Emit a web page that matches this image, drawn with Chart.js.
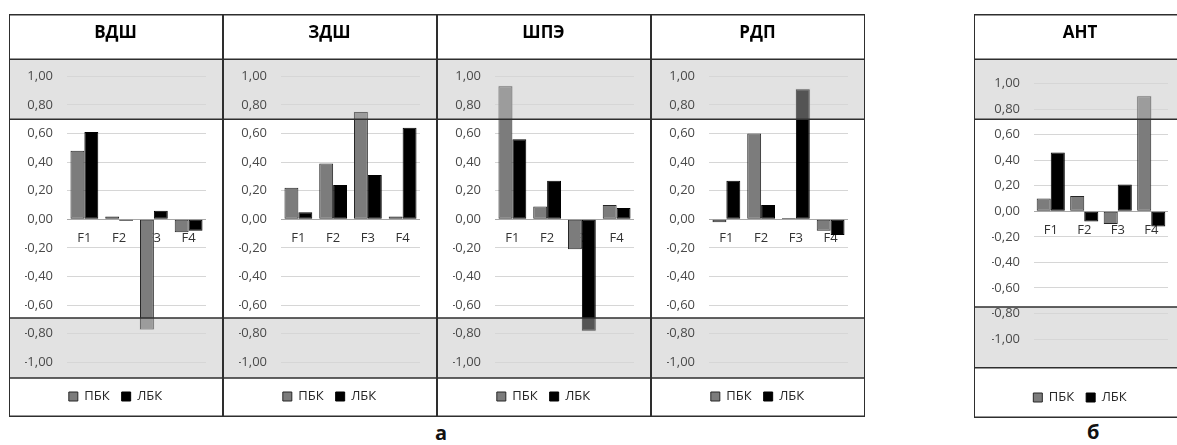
<!DOCTYPE html>
<html>
<head>
<meta charset="utf-8">
<script src="https://cdn.jsdelivr.net/npm/chart.js@4/dist/chart.umd.min.js"></script>
<style>
  html, body { margin: 0; padding: 0; background: #fff; overflow: hidden; }
  body { width: 1177px; height: 445px; position: relative; }
  .cell { position: absolute; }
  .cell canvas { display: block; }
  .caption { position: absolute; font: bold 20px "Open Sans", sans-serif; line-height: 20px; color: #111; }
</style>
</head>
<body>
<div class="caption" style="left:435px;top:423px">а</div>
<div class="caption" style="left:1087px;top:422px">б</div>
<script>
const categories = ["F1", "F2", "F3", "F4"];
const seriesNames = ["ПБК", "ЛБК"];
const yTicks = [-1, -0.8, -0.6, -0.4, -0.2, 0, 0.2, 0.4, 0.6, 0.8, 1];

// values
const vdshPbk = [0.48, 0.02, -0.77, -0.09];
const vdshLbk = [0.61, -0.01, 0.06, -0.08];
const zdshPbk = [0.22, 0.39, 0.75, 0.02];
const zdshLbk = [0.05, 0.24, 0.31, 0.64];
const shpePbk = [0.93, 0.09, -0.21, 0.1];
const shpeLbk = [0.56, 0.27, -0.78, 0.08];
const rdpPbk = [-0.02, 0.6, 0.01, -0.08];
const rdpLbk = [0.27, 0.1, 0.91, -0.11];
const antPbk = [0.1, 0.12, -0.1, 0.9];
const antLbk = [0.46, -0.08, 0.21, -0.12];

// shaded zones: above the first value, below the second
const bandsA = [0.7, -0.69];
const bandsB = [0.72, -0.75];

const frameA = {
  top: 14, width: 214, height: 403, padLeft: 16, padRight: 17, padBottom: 4,
  yMin: -1.11, yMax: 1.12, catPct: 0.8, bands: bandsA, legendGap: 0,
};
const frameB = {
  top: 14, width: 214, height: 404, padLeft: 18, padRight: 20, padBottom: 4,
  yMin: -1.225, yMax: 1.19, catPct: 0.84, bands: bandsB, legendGap: 10,
};

const panels = [
  { title: "ВДШ", pbk: vdshPbk, lbk: vdshLbk, left: 9, frame: frameA },
  { title: "ЗДШ", pbk: zdshPbk, lbk: zdshLbk, left: 223, frame: frameA },
  { title: "ШПЭ", pbk: shpePbk, lbk: shpeLbk, left: 437, frame: frameA },
  { title: "РДП", pbk: rdpPbk, lbk: rdpLbk, left: 651, frame: frameA },
  { title: "АНТ", pbk: antPbk, lbk: antLbk, left: 974, frame: frameB },
];

const FONT = '"Open Sans", sans-serif';
const BAND_FILL = "#e2e2e2";
const BAND_OVER = "rgba(200, 200, 200, 0.42)";
const FRAME_COLOR = "#2e2e2e";

const bandPlugin = {
  id: "bands",
  beforeDraw: (chart, args, options) => {
    const { ctx, chartArea, width } = chart;
    const y = chart.scales.y;
    const yHi = y.getPixelForValue(options.high);
    const yLo = y.getPixelForValue(options.low);
    ctx.save();
    ctx.fillStyle = BAND_FILL;
    ctx.fillRect(0, chartArea.top, width, yHi - chartArea.top);
    ctx.fillRect(0, yLo, width, chartArea.bottom - yLo);
    ctx.restore();
  },
  afterDatasetsDraw: (chart, args, options) => {
    const { ctx, chartArea, width, height } = chart;
    const y = chart.scales.y;
    const yHi = y.getPixelForValue(options.high);
    const yLo = y.getPixelForValue(options.low);
    const zones = [[chartArea.top, yHi], [yLo, chartArea.bottom]];

    // bars seen through the shaded zones
    ctx.save();
    ctx.fillStyle = BAND_OVER;
    chart.data.datasets.forEach((ds, i) => {
      chart.getDatasetMeta(i).data.forEach((bar) => {
        const top = Math.min(bar.y, bar.base) - 0.5;
        const bottom = Math.max(bar.y, bar.base) + 0.5;
        const x0 = bar.x - bar.width / 2 - 0.5;
        zones.forEach(([z0, z1]) => {
          const a = Math.max(top, z0);
          const b = Math.min(bottom, z1);
          if (b > a) ctx.fillRect(x0, a, bar.width + 1, b - a);
        });
      });
    });

    // table frame
    ctx.strokeStyle = FRAME_COLOR;
    ctx.lineWidth = 1.5;
    [0.75, chartArea.top, yHi, yLo, chartArea.bottom, height - 0.75].forEach((yy) => {
      ctx.beginPath();
      ctx.moveTo(0, yy);
      ctx.lineTo(width, yy);
      ctx.stroke();
    });
    ctx.lineWidth = 1;
    [0.5, width - 0.5].forEach((xx) => {
      ctx.beginPath();
      ctx.moveTo(xx, 0);
      ctx.lineTo(xx, height);
      ctx.stroke();
    });
    ctx.restore();
  },
};

function createChart(panel) {
  const f = panel.frame;
  const cell = document.createElement("div");
  cell.className = "cell";
  cell.style.left = panel.left + "px";
  cell.style.top = f.top + "px";
  const canvas = document.createElement("canvas");
  canvas.width = f.width;
  canvas.height = f.height;
  cell.appendChild(canvas);
  document.body.appendChild(cell);

  return new Chart(canvas, {
    type: "bar",
    data: {
      labels: categories,
      datasets: [
        {
          label: seriesNames[0],
          data: panel.pbk,
          backgroundColor: "#7c7c7c",
          borderColor: "#262626",
          borderWidth: 1,
          borderSkipped: false,
        },
        {
          label: seriesNames[1],
          data: panel.lbk,
          backgroundColor: "#000000",
          borderColor: "#000000",
          borderWidth: 1,
          borderSkipped: false,
        },
      ],
    },
    options: {
      responsive: false,
      animation: false,
      devicePixelRatio: 1,
      events: [],
      layout: {
        padding: { left: f.padLeft, right: f.padRight, top: 0, bottom: f.padBottom },
      },
      datasets: {
        bar: { categoryPercentage: f.catPct, barPercentage: 1 },
      },
      scales: {
        x: {
          position: { y: 0 },
          grid: { display: false, drawTicks: false },
          border: { display: false },
          ticks: {
            padding: 11,
            color: "#333333",
            font: { family: FONT, size: 13 },
          },
        },
        y: {
          min: f.yMin,
          max: f.yMax,
          afterBuildTicks: (axis) => {
            axis.ticks = yTicks.map((v) => ({ value: v }));
          },
          afterFit: (axis) => {
            axis.width = 42;
          },
          grid: {
            drawTicks: false,
            color: (c) => (c.tick && c.tick.value === 0 ? "#a8a8a8" : "#d6d6d6"),
          },
          border: { display: false },
          ticks: {
            padding: 14,
            color: "#4a4a4a",
            font: { family: FONT, size: 13 },
            callback: (v) => Number(v).toFixed(2).replace(".", ","),
          },
        },
      },
      plugins: {
        title: {
          display: true,
          text: panel.title,
          color: "#000000",
          font: { family: FONT, size: 17, weight: "bold" },
          lineHeight: 1.2,
          padding: { top: 9, bottom: 15.8 },
        },
        legend: {
          position: "bottom",
          title: {
            display: f.legendGap > 0,
            text: "",
            font: { size: 1 },
            padding: { top: f.legendGap, bottom: 0 },
          },
          labels: {
            boxWidth: 9,
            boxHeight: 9,
            padding: 12,
            color: "#262626",
            font: { family: FONT, size: 13 },
          },
        },
        tooltip: { enabled: false },
        bands: { high: f.bands[0], low: f.bands[1] },
      },
    },
    plugins: [bandPlugin],
  });
}

panels.forEach(createChart);
</script>
</body>
</html>
